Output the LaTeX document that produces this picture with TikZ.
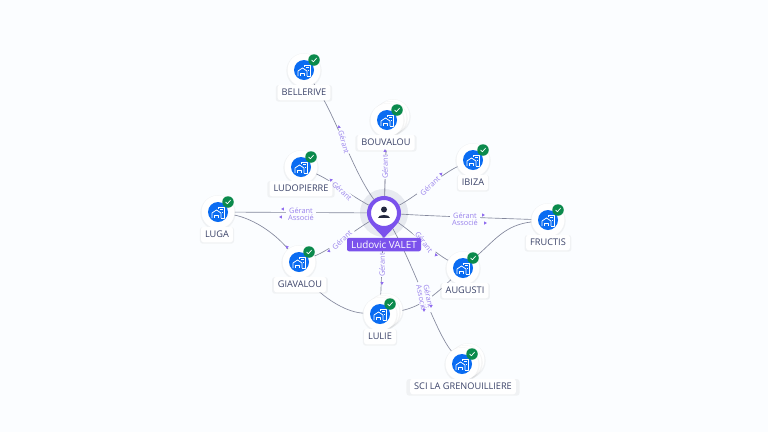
\documentclass[tikz,border=0pt]{standalone}
\usepackage{fontspec}
\setmainfont{Open Sans}
\usetikzlibrary{shapes.geometric,calc,shadows}
\definecolor{pagebg}{HTML}{FBFDFF}
\definecolor{edgecol}{HTML}{83879C}
\definecolor{violet}{HTML}{7B52EC}
\definecolor{softviolet}{HTML}{9A83EC}
\definecolor{navy}{HTML}{3A4268}
\definecolor{bluedisc}{HTML}{0A6CF2}
\definecolor{greenbadge}{HTML}{0B8A4C}
\definecolor{ringcol}{HTML}{E7EAF0}
\pgfdeclarelayer{back}
\pgfdeclarelayer{links}
\pgfsetlayers{back,links,main}
\tikzset{
  x=1pt,y=-1pt,
  softshadow/.style={drop shadow={opacity=0.06,shadow xshift=0pt,shadow yshift=-0.8pt,shadow scale=1.07,fill=black!70}},
  edge/.style={draw=edgecol,line width=0.65pt},
  sitedisc/.style={circle,fill=white,softshadow,minimum size=33pt,inner sep=0pt},
  sitelabel/.style={fill=white,softshadow,rounded corners=2.5pt,text=navy,font=\fontsize{9.2}{10}\selectfont,inner xsep=4pt,inner ysep=0pt,minimum height=15.5pt},
  linklabel/.style={fill=pagebg,text=softviolet,font=\fontsize{7.4}{8}\selectfont,inner sep=0.6pt,align=center},
  tri/.style={regular polygon,regular polygon sides=3,fill=violet!85,inner sep=0pt,minimum size=3.8pt},
}
\newcommand{\site}[7][]{%
  % #1 extra stacked discs, #2 id, #3 x, #4 y, #5 text, #6 lx, #7 ly
  \foreach \ox/\oy in {#1}{\node[sitedisc] at ({#3+\ox},{#4+\oy}) {};}
  \node[sitedisc] (#2) at (#3,#4) {};
  \fill[bluedisc] (#3,#4) circle (10pt);
  \begin{scope}[shift={(#3,#4)},draw=white,line width=0.75pt,line join=round]
    \draw (-6,6) -- (-6,1) -- (-1.5,-2) -- (3,1) -- (3,6);
    \draw (-3.2,6) -- (-3.2,3) -- (0.2,3) -- (0.2,6);
    \draw (0,-3.5) -- (0,-5) -- (6,-5) -- (6,6) -- (3,6);
    \draw (2,-2.5) -- (4.5,-2.5) (4,0.5) -- (4.8,0.5);
  \end{scope}
  \node[circle,fill=greenbadge,minimum size=11.5pt,inner sep=0pt] (#2-badge) at ({#3+10},{#4-10}) {};
  \draw[white,line width=0.7pt,line cap=round,line join=round] ({#3+7.6},{#4-10}) -- ({#3+9.4},{#4-8.3}) -- ({#3+12.5},{#4-11.8});
  \node[sitelabel] (#2-label) at (#6,#7) {#5};
}
\begin{document}
\begin{tikzpicture}
\useasboundingbox (0,0) rectangle (768,432);
\begin{pgfonlayer}{back}
  \fill[pagebg] (0,0) rectangle (768,432);
  \fill[ringcol] (384,213) circle (24pt);
\end{pgfonlayer}

% hub pin
\fill[violet] (368.5,217) .. controls (370,225) and (378,231) .. (384,238) .. controls (390,231) and (398,225) .. (399.5,217) -- cycle;
\node[circle,fill=white,draw=violet,line width=4pt,minimum size=30pt,inner sep=0pt] (hub) at (384,213) {};
\fill[navy!60!black] (384,209.5) circle (3pt);
\fill[navy!60!black] (378,218) .. controls (378,213.5) and (390,213.5) .. (390,218) -- cycle;
\node[fill=violet,text=white,rounded corners=2pt,font=\fontsize{9.9}{10}\selectfont,inner xsep=3pt,inner ysep=0pt,minimum height=13.5pt,minimum width=74pt] (hublabel) at (384,244.5) {Ludovic VALET};

% sites
\site{bellerive}{304}{70}{BELLERIVE}{304}{92.5}
\site[6/-4,3/-2]{bouvalou}{387}{120}{BOUVALOU}{386}{142.5}
\site{ibiza}{473}{160}{IBIZA}{473}{182.5}
\site{ludopierre}{301}{167}{LUDOPIERRE}{301}{188.5}
\site{luga}{218}{212}{LUGA}{217}{234.5}
\site{giavalou}{299}{262}{GIAVALOU}{300}{284.5}
\site[6/-4,3/-2]{lulie}{380}{314}{LULIE}{380}{336.5}
\site{augusti}{463}{268}{AUGUSTI}{465}{290.5}
\site{fructis}{548}{220}{FRUCTIS}{548}{242.5}
\site[6/-4,3/-2]{sci}{462}{364}{SCI LA GRENOUILLIERE}{463}{386.5}

\begin{pgfonlayer}{links}
  % hub links
  \draw[edge] (hub) .. controls (352,170) and (335,113) .. (bellerive);
  \draw[edge,line width=1.1pt,draw=edgecol!80] (hub) -- (bouvalou);
  \draw[edge] (hub) .. controls (415,197) and (445,172) .. (ibiza);
  \draw[edge] (hub) .. controls (355,198) and (330,180) .. (ludopierre);
  \draw[edge] (hub) -- (luga);
  \draw[edge] (hub) .. controls (355,230) and (330,250) .. (giavalou);
  \draw[edge] (hub) -- (lulie);
  \draw[edge] (hub) .. controls (412,232) and (436,254) .. (augusti);
  \draw[edge] (hub) .. controls (415,268) and (435,331) .. (sci);
  \draw[edge] (hub) .. controls (430,216) and (490,218) .. (fructis);
  % site links
  \draw[edge] (luga) .. controls (250,218) and (272,230) .. (giavalou);
  \draw[edge] (augusti) .. controls (495,240) and (505,225) .. (fructis);
  \draw[edge] (giavalou) .. controls (312,288) and (340,312) .. (lulie);
  \draw[edge] (lulie) .. controls (420,308) and (435,295) .. (augusti);
  % link labels
  \node[linklabel,rotate=-75,inner ysep=2pt] (t1) at (344,142) {Gérant};
  \node[linklabel,rotate=90,inner ysep=3pt] (t2) at (385,167) {Gérant};
  \node[linklabel,rotate=42,inner xsep=3pt] (t3) at (430,186) {Gérant};
  \node[linklabel,rotate=-42,inner xsep=3pt] (t4) at (342,191) {Gérant};
  \node[linklabel,inner xsep=2pt] (t5) at (301,214) {Gérant\\[-0.8pt]Associé};
  \node[linklabel,rotate=42,inner xsep=3pt] (t6) at (342,240) {Gérant};
  \node[linklabel,rotate=90,inner ysep=3pt] (t7) at (382,265) {Gérant};
  \node[linklabel,rotate=-52,inner xsep=3pt] (t8) at (424,242) {Gérant};
  \node[linklabel,rotate=-78,inner xsep=3pt] (t9) at (425,297) {Gérant\\[-0.8pt]Associé};
  \node[linklabel,inner xsep=2pt] (t10) at (465,219) {Gérant\\[-0.8pt]Associé};
\end{pgfonlayer}

% arrow marks
\node[tri,rotate=10] (a1) at (339,127) {};
\node[tri] (a2) at (385,151) {};
\node[tri,rotate=-45] (a3) at (441,174) {};
\node[tri,rotate=45] (a4) at (331,180) {};
\node[tri,rotate=90] (a5) at (283,209) {};
\node[tri,rotate=90] (a6) at (281,217) {};
\node[tri,rotate=40] (a7) at (287,247) {};
\node[tri,rotate=-130] (a8) at (329,251) {};
\node[tri,rotate=180] (a9) at (382,283) {};
\node[tri,rotate=135] (a10) at (436,255) {};
\node[tri,rotate=180] (a11) at (424,310) {};
\node[tri,rotate=180] (a12) at (431,306) {};
\node[tri,rotate=-90] (a13) at (483,215) {};
\node[tri,rotate=-90] (a14) at (485,223) {};
\end{tikzpicture}
\end{document}
